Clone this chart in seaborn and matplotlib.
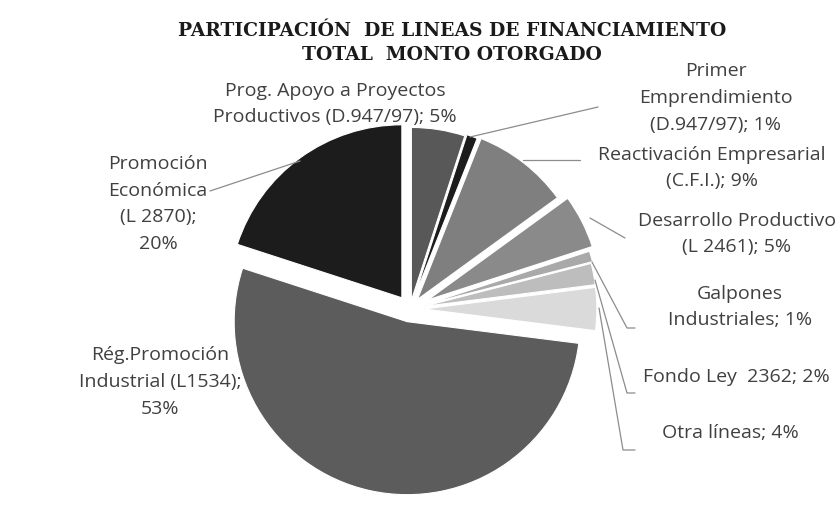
import numpy as np
import matplotlib
matplotlib.use("Agg")
import matplotlib.pyplot as plt
import seaborn as sns

# data, clockwise from 12 o'clock
labels = [
    "Prog. Apoyo a Proyectos\nProductivos (D.947/97); 5%",
    "Primer\nEmprendimiento\n(D.947/97); 1%",
    "Reactivación Empresarial\n(C.F.I.); 9%",
    "Desarrollo Productivo\n(L 2461); 5%",
    "Galpones\nIndustriales; 1%",
    "Fondo Ley  2362; 2%",
    "Otra líneas; 4%",
    "Rég.Promoción\nIndustrial (L1534);\n53%",
    "Promoción\nEconómica\n(L 2870);\n20%",
]
shares = [5, 1, 9, 5, 1, 2, 4, 53, 20]
grays = ["#585858", "#1c1c1c", "#7f7f7f", "#8a8a8a", "#a9a9a9",
         "#bdbdbd", "#dadada", "#5c5c5c", "#1c1c1c"]
explode = [0.05, 0.06, 0.07, 0.115, 0.09, 0.08, 0.08, 0.075, 0.08]

sns.set_theme(style="white")
plt.rcParams["font.family"] = ["Open Sans", "DejaVu Sans"]

W, H = 840, 505
fig = plt.figure(figsize=(8.4, 5.05), dpi=100)
ax = fig.add_axes([0, 0, 1, 1])


def px(x, y):
    # pixel position (from top-left) -> data coords
    return x, H - y


cx, cy = px(410, 309)
R = 173
wedges, _ = ax.pie(
    shares, colors=grays, explode=[e * R for e in explode], startangle=90,
    counterclock=False, center=(cx, cy), radius=R,
    wedgeprops=dict(edgecolor="white", linewidth=0.8),
    frame=True,
)
ax.set_xlim(0, W)
ax.set_ylim(0, H)
ax.set_aspect("equal")
ax.axis("off")

fig.text(0.538, 1 - 43 / H, "PARTICIPACIÓN  DE LINEAS DE FINANCIAMIENTO\nTOTAL  MONTO OTORGADO",
         ha="center", va="center", fontsize=13.5, fontweight="bold",
         family="DejaVu Serif", color="#1a1a1a", linespacing=1.38)

# label centres and leader lines (pixel coords)
label_pos = [(335, 104), (716, 98), (712, 168), (737, 234), (740, 307),
             (736, 377), (730, 433), (160, 382), (158, 204)]
leaders = {
    1: [(598, 107), (470, 137)],
    2: [(580, 160), (523, 160)],
    3: [(625, 238), (590, 218)],
    4: [(635, 328), (627, 328), (592, 262)],
    5: [(635, 393), (627, 393), (595, 280)],
    6: [(635, 450), (623, 450), (599, 308)],
    8: [(210, 191), (300, 161)],
}

for i, pts in leaders.items():
    xs, ys = zip(*[px(*p) for p in pts])
    ax.plot(xs, ys, color="#8c8c8c", lw=0.9)

for i, lab in enumerate(labels):
    x, y = px(*label_pos[i])
    ax.text(x, y, lab, ha="center", va="center", fontsize=14,
            color="#404040", linespacing=1.64)

fig.savefig("out.png", dpi=100, facecolor="white")
